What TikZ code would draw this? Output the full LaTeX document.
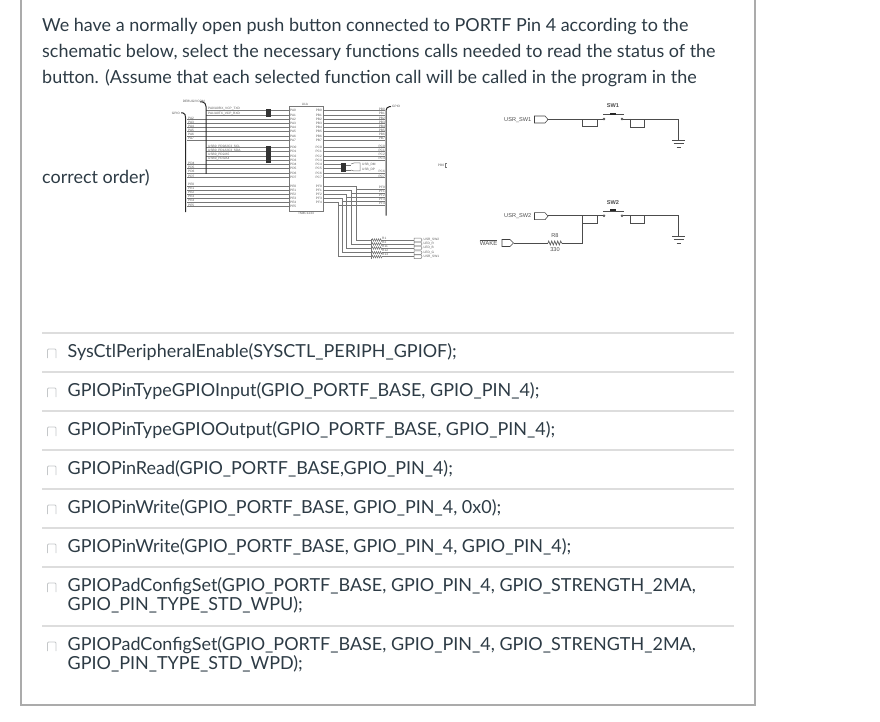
\documentclass[tikz,border=0pt]{standalone}
\usepackage{fontspec}
\setmainfont{Lato}
\newfontfamily\schemfont{Liberation Sans}
\usetikzlibrary{decorations.pathmorphing}
\definecolor{ink}{HTML}{2D3B45}
\definecolor{framec}{HTML}{ABABAB}
\definecolor{sepc}{HTML}{DDDDDD}
\definecolor{boxc}{HTML}{C4C7C9}
\definecolor{wirec}{HTML}{777777}
\tikzset{
  x=1pt,y=-1pt,
  body/.style={text=ink,inner sep=0pt,anchor=base west,font=\fontsize{17.97}{19.5}\selectfont},
  wrapped/.style={text=ink,inner sep=0pt,anchor=north west,align=left,font=\fontsize{17.97}{19.5}\selectfont},
  tick/.style={draw=boxc,line width=0.8pt,rounded corners=1pt},
  sep/.style={draw=sepc,line width=1.4pt},
  wire/.style={draw=wirec,line width=0.5pt},
  cwire/.style={draw=black!70,line width=0.6pt},
  bus/.style={draw=black!85,line width=1pt,rounded corners=1.5pt},
  tiny/.style={font=\schemfont\fontsize{3.2}{3.2}\selectfont,text=black!65,inner sep=0pt},
  small/.style={font=\schemfont\fontsize{5.6}{5.6}\selectfont,text=black!70,inner sep=0pt},
  jump/.style={fill=black!80,draw=none},
  port/.style={draw=black!75,line width=0.55pt,fill=white},
  contact/.style={draw=black!75,line width=0.45pt,fill=white,circle,inner sep=0pt,minimum size=2pt},
}
\begin{document}
\begin{tikzpicture}
\useasboundingbox (0,0) rectangle (880,722);
% frame
\draw[draw=framec,line width=2pt] (21,0) -- (21,705) -- (755,705) -- (755,0);
% question
\node[body] (q1) at (42,32) {We have a normally open push button connected to PORTF Pin 4 according to the};
\node[body] (q2) at (42,58) {schematic below, select the necessary functions calls needed to read the status of the};
\node[body] (q3) at (42,84) {button. (Assume that each selected function call will be called in the program in the};
\node[body] (q4) at (42,183) {correct order)};
% separators
\foreach \y in {333,372,411,450,489,528,567,626}
  \draw[sep] (42,\y) -- (734,\y);
% checkboxes
\foreach \y in {353,392,431,470,509,548,587,646}
  \draw[tick] (47.5,\y+5) -- (47.5,\y-4) -- (56,\y-4) -- (56,\y+5);
% options
\node[body] (o1) at (67.5,357) {SysCtlPeripheralEnable(SYSCTL\_PERIPH\_GPIOF);};
\node[body] (o2) at (67.5,396) {GPIOPinTypeGPIOInput(GPIO\_PORTF\_BASE, GPIO\_PIN\_4);};
\node[body] (o3) at (67.5,435) {GPIOPinTypeGPIOOutput(GPIO\_PORTF\_BASE, GPIO\_PIN\_4);};
\node[body] (o4) at (67.5,474) {GPIOPinRead(GPIO\_PORTF\_BASE,GPIO\_PIN\_4);};
\node[body] (o5) at (67.5,513) {GPIOPinWrite(GPIO\_PORTF\_BASE, GPIO\_PIN\_4, 0x0);};
\node[body] (o6) at (67.5,552) {GPIOPinWrite(GPIO\_PORTF\_BASE, GPIO\_PIN\_4, GPIO\_PIN\_4);};
\node[wrapped] (o7) at (67.5,577) {GPIOPadConfigSet(GPIO\_PORTF\_BASE, GPIO\_PIN\_4, GPIO\_STRENGTH\_2MA,\\GPIO\_PIN\_TYPE\_STD\_WPU);};
\node[wrapped] (o8) at (67.5,636) {GPIOPadConfigSet(GPIO\_PORTF\_BASE, GPIO\_PIN\_4, GPIO\_STRENGTH\_2MA,\\GPIO\_PIN\_TYPE\_STD\_WPD);};

% === MCU schematic ===
\draw[wire] (289,106.7) rectangle (323,211.7);
\node[tiny] (u1a) at (305,104.5) {U1A};
\node[tiny] (tmc) at (306,213.8) {TM4C1233};
% PA rows / PB rows
\foreach \y [count=\i from 0] in {110.7,115,119.3,123.3,127.7,131.7,136,140}{
  \ifnum\i<2 \draw[wire] (206,\y) -- (289,\y); \else
  \draw[wire] (187,\y) -- (289,\y); \node[tiny,anchor=west] at (188,\y-1.2) {PA\i}; \fi
  \node[tiny,anchor=west] at (290,\y) {PA\i};
  \draw[wire] (323,\y) -- (385,\y);
  \node[tiny,anchor=east] at (322,\y) {PB\i};
  \node[tiny,anchor=east] at (385,\y-1.2) {PB\i};
}
% PD rows / PC rows
\foreach \y [count=\i from 0] in {147.7,151.7,156,160,164.3,168.7,173,177.3}{
  \ifnum\i<4 \draw[wire] (206,\y) -- (289,\y); \else
  \draw[wire] (187,\y) -- (289,\y); \node[tiny,anchor=west] at (188,\y-1.2) {PD\i}; \fi
  \node[tiny,anchor=west] at (290,\y) {PD\i};
  \node[tiny,anchor=east] at (322,\y) {PC\i};
}
\foreach \y/\n in {147.7/0,151.7/1,156/2,160/3,173/6,177.3/7}{
  \draw[wire] (323,\y) -- (385,\y);
  \node[tiny,anchor=east] at (385,\y-1.2) {PC\n};
}
\draw[wire] (323,164.3) -- (341,164.3) (323,168.7) -- (341,168.7);
% USB jumper
\fill[jump] (341,163) rectangle (346,172);
\draw[wire] (346,165) -- (351,165) (346,170) -- (351,170);
\draw[wire] (351,164) -- (354,163) -- (360,163) -- (360,171) -- (354,171) -- (351,170);
\node[tiny,anchor=west] at (362,165) {USB\_DM};
\node[tiny,anchor=west] at (362,169.5) {USB\_DP};
% PE rows
\foreach \y [count=\i from 0] in {186,190,194,198,202,206.7}{
  \draw[wire] (187,\y) -- (289,\y);
  \node[tiny,anchor=west] at (188,\y-1.2) {PE\i};
  \node[tiny,anchor=west] at (290,\y) {PE\i};
}
% PF rows routed to resistors
\foreach \y/\v/\r/\n/\lab/\rn [count=\i from 0] in {
  186/356/240/0/USR\_SW2/R1,
  190/351/244/1/LED\_R/R2,
  194/346/248/2/LED\_B/R11,
  198/342/252.7/3/LED\_G/R12,
  202/338/256.7/4/USR\_SW1/R13}{
  \draw[wire] (323,\y) -- (\v,\y) -- (\v,\r) -- (372,\r);
  \draw[wire,decorate,decoration={zigzag,segment length=2pt,amplitude=1.2pt}] (372,\r) -- (382,\r);
  \draw[wire] (382,\r) -- (414,\r);
  \draw[wire] (414,\r-1.8) -- (421,\r-1.8) -- (422,\r) -- (421,\r+1.8) -- (414,\r+1.8) -- cycle;
  \node[tiny,anchor=west] at (423.5,\r) {\lab};
  \node[tiny,anchor=west] at (382,\r-2) {\rn};
  \node[tiny,anchor=east] at (322,\y) {PF\n};
}
\foreach \y/\v [count=\i from 0] in {189/356,193/351,197/346,201/342,205/338}{
  \draw[wire] (\v,\y) -- (385,\y);
}
\foreach \y [count=\i from 0] in {189,193,197,201,205}
  \node[tiny,anchor=east] at (385,\y-1.2) {PF\the\numexpr\i\relax};
\draw[wire] (371,238.5) -- (371,258.5);
% VCP / USB labels
\node[tiny,anchor=west] at (208,109) {PA0/U0RX\_VCP\_TXD};
\node[tiny,anchor=west] at (208,113.4) {PA1/U0TX\_VCP\_RXD};
\node[tiny,anchor=west] at (208,146.3) {USB0\_PD0/I2C3\_SCL};
\node[tiny,anchor=west] at (208,150.3) {USB0\_PD1/I2C3\_SDA};
\node[tiny,anchor=west] at (208,154.6) {USB0\_PD2/A5};
\node[tiny,anchor=west] at (208,158.6) {USB0\_PD3/A4};
% jumpers
\fill[jump] (266,109) rectangle (271,117);
\fill[jump] (266,146) rectangle (271,163);
% buses
\draw[bus] (181,113) -- (184.5,113) -- (185.5,116) -- (185.5,212);
\draw[bus] (386,215.7) -- (386,109) -- (388,106.7) -- (391,106.5);
\draw[bus] (200,102) -- (204,102) -- (206,105) -- (206,174);
\node[tiny,anchor=east] (glab) at (180,113.5) {GPIO};
\node[tiny,anchor=west] (grab) at (392,106) {GPIO};
\node[tiny,anchor=east] (dlab) at (205,101.5) {DEBUG/VCOM};
\node[tiny] (pb0) at (441,165.3) {PB0};
\draw[wire] (446.5,163) -- (445.5,163) -- (445.5,167.5) -- (446.5,167.5);

% === Switches ===
\foreach \dy/\nm in {0/SW1,96.7/SW2}{
  \begin{scope}[yshift=-\dy pt]
  \coordinate (pt) at (548,119);
  \draw[cwire] (pt) -- (582.5,119) -- (582.5,126.5) -- (597,126.5) -- (597,119) -- (601.5,119);
  \draw[cwire] (582.5,119) -- (597,119);
  \node[contact] (cl) at (604,119) {};
  \node[contact] (cr) at (622,119) {};
  \draw[cwire,line width=0.9pt] (603,114.7) -- (624,114.7);
  \fill[black!85] (610,112.7) rectangle (616,114.7);
  \draw[cwire] (cr) -- (644,119);
  \draw[cwire] (630,119) -- (630,127) -- (644,127) -- (644,119) -- (678,119) -- (678,140);
  \draw[cwire] (672,140) -- (685,140) (673.5,143) -- (683.5,143) (676.5,147) -- (680.5,147);
  \draw[cwire] (cl) -- (602,119);
  \node[small,font=\schemfont\fontsize{5.6}{5.6}\selectfont\bfseries] at (613,106) {\nm};
  \end{scope}
}
% ports
\node[small,anchor=east] (us1) at (531.5,120) {USR\_SW1};
\node[small,anchor=east] (us2) at (531.5,216.5) {USR\_SW2};
\draw[port] (534.5,116) -- (545,116) -- (548,119.5) -- (545,123) -- (534.5,123) -- cycle;
\draw[port] (534.5,212.7) -- (545,212.7) -- (548,216.2) -- (545,219.7) -- (534.5,219.7) -- cycle;
\node[small,anchor=east,font=\schemfont\fontsize{6}{6}\selectfont] (wk) at (497.5,242.7) {$\overline{\mbox{WAKE}}$};
\draw[port] (502,239.5) -- (510,239.5) -- (513.5,243) -- (510,246.5) -- (502,246.5) -- cycle;
\coordinate (wakeout) at (513.5,243);
\coordinate (rin) at (548,243);
\coordinate (rout) at (562,243);
\draw[cwire] (wakeout) -- (rin);
\draw[cwire,decorate,decoration={zigzag,segment length=3pt,amplitude=2pt}] (rin) -- (rout);
\draw[cwire] (rout) -- (582.5,243) -- (582.5,215.7);
\node[small] (r8) at (555,236) {R8};
\node[small] (r330) at (555,249.5) {330};
\end{tikzpicture}
\end{document}
